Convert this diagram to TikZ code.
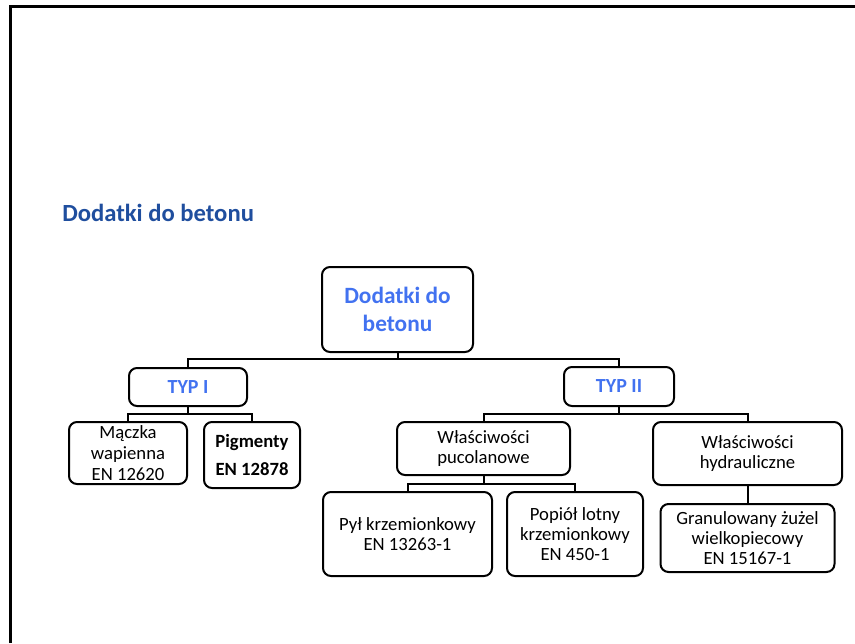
\documentclass[tikz,border=0pt]{standalone}
\usepackage{fontspec}
\setmainfont{Carlito}
\definecolor{titleblue}{RGB}{31,78,158}
\definecolor{nodeblue}{RGB}{66,114,240}
\begin{document}
\begin{tikzpicture}[x=0.75pt,y=-0.75pt,
  box/.style={draw, line width=1.5pt, rounded corners=6pt, align=center, inner sep=2pt,
    font=\fontsize{14}{15}\selectfont},
  hd/.style={box, text=nodeblue, font=\bfseries\fontsize{15}{16}\selectfont},
  link/.style={line width=1.5pt}]
\useasboundingbox (0,0) rectangle (855,643);
\draw[line width=2.25pt] (10.5,643) -- (10.5,6.3) -- (855,6.3);

\node[anchor=west, inner sep=0pt, text=titleblue, font=\bfseries\fontsize{18.5}{22}\selectfont] (title) at (62,213) {Dodatki do betonu};

\node[box, text=nodeblue, font=\bfseries\fontsize{17.5}{21}\selectfont,
  minimum width=113.25pt, minimum height=63.75pt] (root) at (397.5,309.5) {Dodatki do\\betonu};

\node[hd, minimum width=88.5pt, minimum height=28.5pt] (typ1) at (188,387) {TYP I};
\node[hd, minimum width=82.5pt, minimum height=29.25pt] (typ2) at (619,386.5) {TYP II};

\node[box, font=\fontsize{14}{15.75}\selectfont, minimum width=88.5pt, minimum height=46.5pt] (maczka) at (128,453) {Mączka\\wapienna\\EN 12620};
\node[box, font=\bfseries\fontsize{14}{15}\selectfont, minimum width=72pt, minimum height=49.5pt] (pigm) at (252,455) {Pigmenty\\[6pt]EN 12878};

\node[box, minimum width=129.75pt, minimum height=39.75pt] (pucol) at (483.5,448.5) {Właściwości\\pucolanowe};
\node[box, minimum width=141.75pt, minimum height=47.25pt] (hydr) at (747.5,453.5) {Właściwości\\hydrauliczne};

\node[box, minimum width=126.75pt, minimum height=63pt] (pyl) at (407.5,534) {Pył krzemionkowy\\EN 13263-1};
\node[box, minimum width=102pt, minimum height=63pt] (popiol) at (575,534) {Popiół lotny\\krzemionkowy\\EN 450-1};
\node[box, minimum width=130.5pt, minimum height=51pt] (granul) at (747.5,538) {Granulowany żużel\\wielkopiecowy\\EN 15167-1};

\coordinate (b0) at (0,359);
\coordinate (b1) at (0,414);
\coordinate (b2) at (0,483.5);

\draw[link] (root.south) -- (root.south |- b0) -| (typ1.north);
\draw[link] (root.south |- b0) -| (typ2.north);
\draw[link] (typ1.south) -- (typ1.south |- b1) -| (maczka.north);
\draw[link] (typ1.south |- b1) -| (pigm.north);
\draw[link] (typ2.south) -- (typ2.south |- b1) -| (pucol.north);
\draw[link] (typ2.south |- b1) -| (hydr.north);
\draw[link] (pucol.south) -- (pucol.south |- b2) -| (pyl.north);
\draw[link] (pucol.south |- b2) -| (popiol.north);
\draw[link] (hydr.south) -- (granul.north);
\end{tikzpicture}
\end{document}
